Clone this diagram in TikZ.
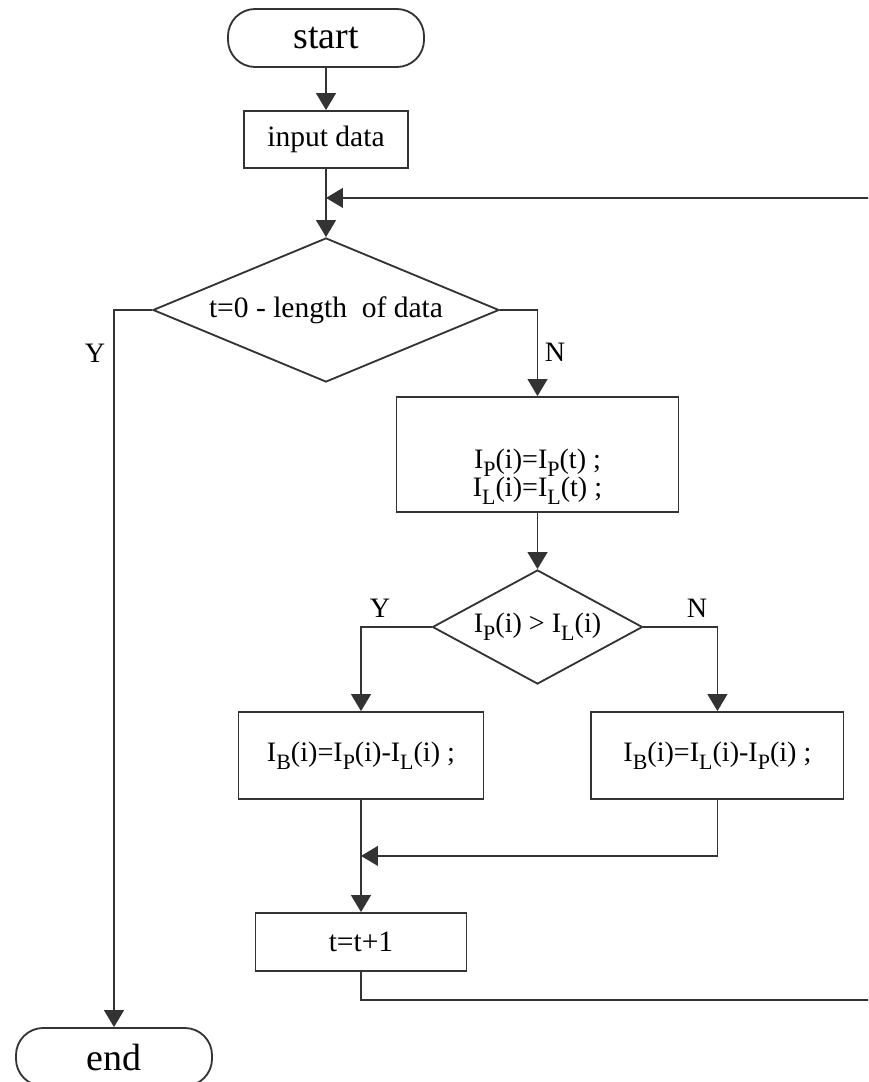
\documentclass[tikz,border=0pt]{standalone}
\usepackage{fontspec}
\setmainfont{Liberation Serif}
\usepackage{tikz}
\usetikzlibrary{shapes.geometric, arrows.meta, positioning}

\newcommand{\lowidx}[1]{\raisebox{-0.28em}{\scalebox{0.78}{#1}}}

\tikzset{
  wire/.style={draw=black!80, line width=1.3pt},
  flow/.style={wire, -{Triangle[length=12pt,width=14pt]}},
  term/.style={wire, rectangle, rounded corners=0.68cm, minimum width=4.9cm, minimum height=1.45cm, font=\fontsize{27}{30}\selectfont},
  proc/.style={wire, rectangle, inner sep=0pt, align=center, font=\fontsize{21}{24}\selectfont},
  decision/.style={wire, diamond, inner sep=0pt, font=\fontsize{21}{24}\selectfont},
  yn/.style={font=\fontsize{20}{22}\selectfont},
}

\begin{document}
\begin{tikzpicture}[x=0.025cm, y=-0.025cm]
    \clip (0,0) rectangle (868,1082);
    \fill[white] (0,0) rectangle (868,1082);

    \node[term] (start) at (326,38) {start};
    \node[proc, minimum width=4.1cm, minimum height=1.425cm] (input) at (326,139.5) {input data};
    \node[decision, aspect=2.4, minimum width=8.65cm, minimum height=3.6cm] (len) at (326,310) {t=0 - length\ \ of data};
    \node[proc, minimum width=7.05cm, minimum height=2.875cm, font=\fontsize{20}{20}\selectfont] (calc) at (537.5,454.5)
        {\rule{0pt}{45pt}I\lowidx{P}(i)=I\lowidx{P}(t) ;\\ I\lowidx{L}(i)=I\lowidx{L}(t) ;};
    \node[decision, aspect=1.84, minimum width=5.25cm, minimum height=2.85cm, font=\fontsize{20}{22}\selectfont] (cmp) at (537.5,627)
        {I\lowidx{P}(i) > I\lowidx{L}(i)};
    \node[proc, minimum width=6.125cm, minimum height=2.175cm, font=\fontsize{20}{22}\selectfont] (subL) at (361,755.5)
        {I\lowidx{B}(i)=I\lowidx{P}(i)-I\lowidx{L}(i) ;};
    \node[proc, minimum width=6.3cm, minimum height=2.175cm, font=\fontsize{20}{22}\selectfont] (subR) [right=2.65cm of subL]
        {I\lowidx{B}(i)=I\lowidx{L}(i)-I\lowidx{P}(i) ;};
    \node[proc, minimum width=5.275cm, minimum height=1.45cm] (inc) at (361,942) {t=t+1};
    \node[term] (end) at (114,1057) {end};

    % branch labels
    \node[yn] (y1) at (95,353) {Y};
    \node[yn] (n1) at (555,352) {N};
    \node[yn] (y2) at (380,608) {Y};
    \node[yn] (n2) at (697,608) {N};

    \path (input.south) ++(0,29) coordinate (back);
    \path (subL.south) ++(0,56) coordinate (merge);
    \coordinate (loopc) at (872,1000);

    \draw[flow] (start) -- (input);
    \draw[flow] (input) -- (len);
    \draw[flow] (len.west) -| (end.north);
    \draw[flow] (len.east) -| (calc.north);
    \draw[flow] (calc) -- (cmp);
    \draw[flow] (cmp.west) -| (subL.north);
    \draw[flow] (cmp.east) -| (subR.north);
    \draw[flow] (subL) -- (inc);
    \draw[flow] (subR.south) |- (merge);
    \draw[flow] (inc.south) |- (loopc) |- (back);
\end{tikzpicture}
\end{document}
